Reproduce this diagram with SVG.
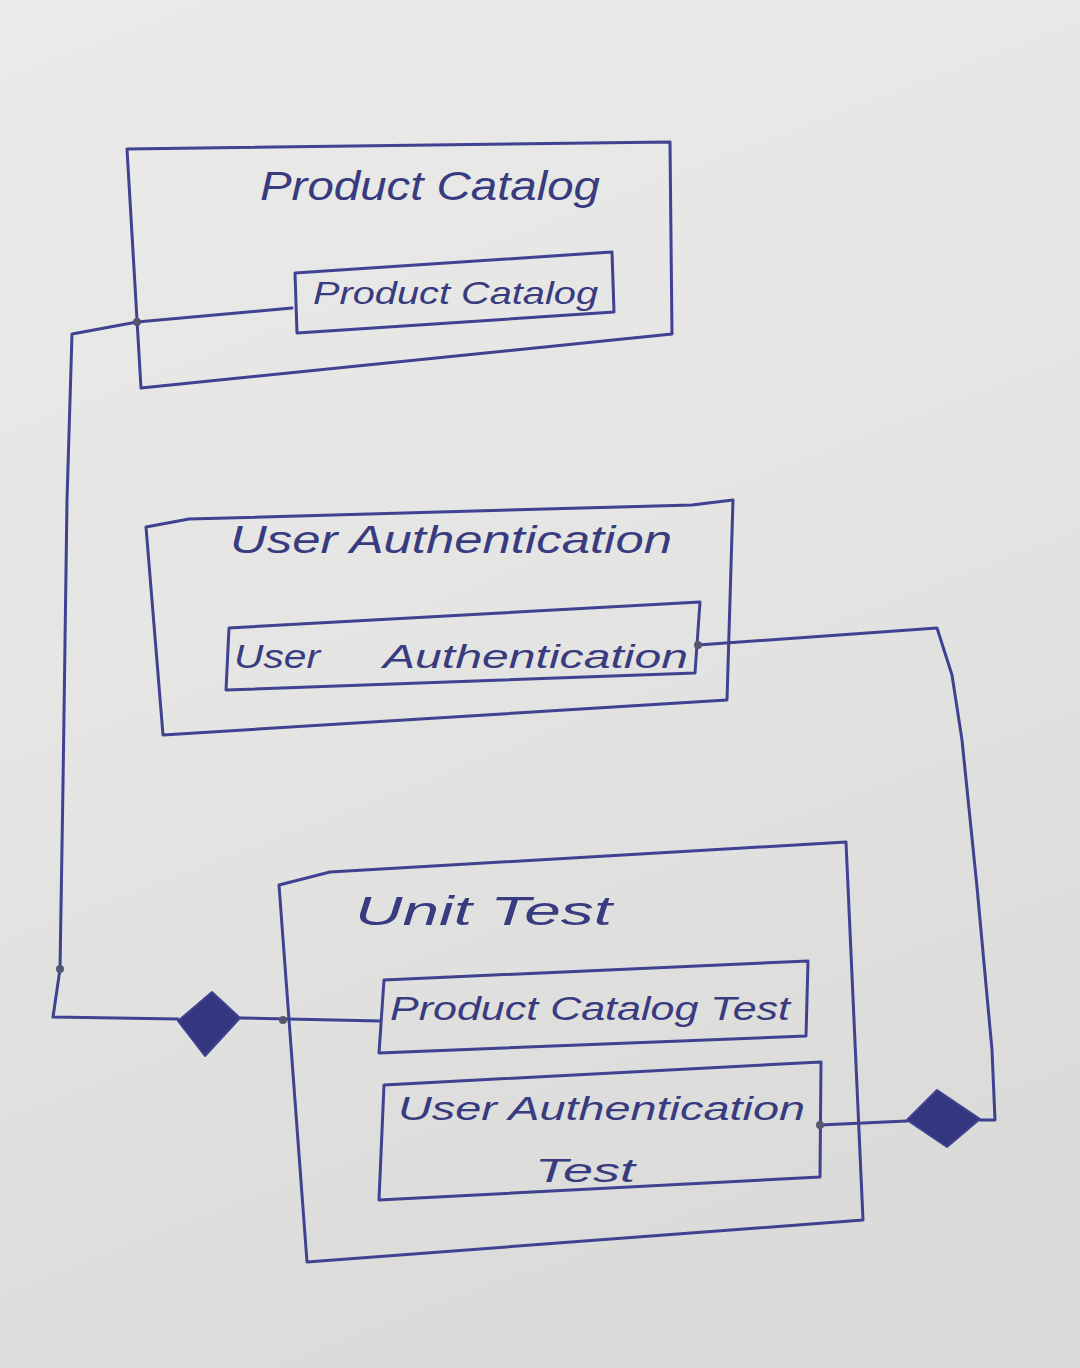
<svg xmlns="http://www.w3.org/2000/svg" width="1080" height="1368" viewBox="0 0 1080 1368">
<defs>
<linearGradient id="paper" x1="0" y1="0" x2="0.3" y2="1">
<stop offset="0" stop-color="#eaeae8"/>
<stop offset="0.5" stop-color="#e5e5e3"/>
<stop offset="1" stop-color="#dbdbd9"/>
</linearGradient>
<style>
.ink{fill:none;stroke:#3f4191;stroke-width:3;stroke-linejoin:round;stroke-linecap:round}
.dia{fill:#34367f;stroke:#3f4191;stroke-width:2;stroke-linejoin:round}
.dot{fill:#55576e}
.t{font-family:"Liberation Sans","DejaVu Sans",sans-serif;font-style:italic;fill:#393b80}
</style>
</defs>
<rect x="0" y="0" width="1080" height="1368" fill="url(#paper)"/>

<g id="product-catalog-package">
<path class="ink" d="M127,149 L670,142 L672,334 L141,388 Z"/>
<text class="t" x="260" y="200" font-size="40" textLength="340" lengthAdjust="spacingAndGlyphs">Product Catalog</text>
</g>
<g id="product-catalog-component">
<path class="ink" d="M295,273 L612,252 L614,312 L297,333 Z"/>
<text class="t" x="313" y="304" font-size="32" textLength="285" lengthAdjust="spacingAndGlyphs">Product Catalog</text>
</g>

<g id="user-authentication-package">
<path class="ink" d="M146,527 L189,519 L692,505 L733,500 L727,700 L163,735 Z"/>
<text class="t" x="230" y="553" font-size="38" textLength="442" lengthAdjust="spacingAndGlyphs">User Authentication</text>
</g>
<g id="user-authentication-component">
<path class="ink" d="M229,628 L700,602 L695,673 L226,690 Z"/>
<text class="t" y="668" font-size="34"><tspan x="234" textLength="86" lengthAdjust="spacingAndGlyphs">User</tspan><tspan x="383" textLength="305" lengthAdjust="spacingAndGlyphs">Authentication</tspan></text>
</g>

<g id="unit-test-package">
<path class="ink" d="M279,885 L330,872 L846,842 L863,1220 L307,1262 Z"/>
<text class="t" x="355" y="925" font-size="40" textLength="257" lengthAdjust="spacingAndGlyphs">Unit Test</text>
</g>
<g id="product-catalog-test">
<path class="ink" d="M384,980 L808,961 L806,1036 L379,1053 Z"/>
<text class="t" x="390" y="1020" font-size="34" textLength="400" lengthAdjust="spacingAndGlyphs">Product Catalog Test</text>
</g>
<g id="user-authentication-test">
<path class="ink" d="M384,1085 L821,1062 L820,1177 L379,1200 Z"/>
<text class="t" font-size="34"><tspan x="398" y="1120" textLength="407" lengthAdjust="spacingAndGlyphs">User Authentication</tspan><tspan x="535" y="1182" textLength="100" lengthAdjust="spacingAndGlyphs">Test</tspan></text>
</g>

<g id="connectors">
<path class="ink" d="M292,308 L137,322 L72,334 L67,500 L63,785 L60,969 L53,1017 L178,1019"/>
<path class="ink" d="M240,1018 L380,1021"/>
<polygon class="dia" points="212,992 240,1018 205,1056 178,1021"/>
<path class="ink" d="M698,645 L937,628 L952,675 L962,740 L977,887 L992,1050 L995,1120 L980,1120"/>
<path class="ink" d="M907,1121 L820,1125"/>
<polygon class="dia" points="937,1090 980,1119 947,1147 907,1120"/>
<circle class="dot" cx="137" cy="322" r="4"/>
<circle class="dot" cx="283" cy="1020" r="4"/>
<circle class="dot" cx="60" cy="969" r="4"/>
<circle class="dot" cx="698" cy="645" r="4"/>
<circle class="dot" cx="820" cy="1125" r="4"/>
</g>
</svg>
